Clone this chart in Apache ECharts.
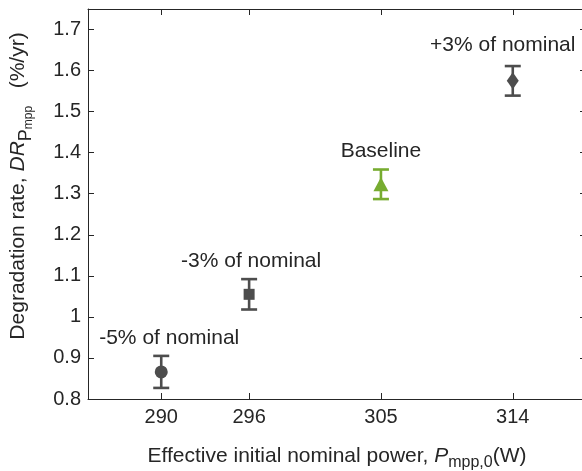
<!DOCTYPE html>
<html>
<head>
    <meta charset="utf-8" />
    <title>Degradation rate</title>
    <script src="https://cdn.jsdelivr.net/npm/echarts@6/dist/echarts.min.js"></script>
    <style>
        html, body { margin: 0; padding: 0; background: #fff; }
    </style>
</head>
<body>
    <div id="main" style="width: 582px;height:471px;"></div>
    <script type="text/javascript">
        // values
        var powers = [290, 296, 305, 314];
        var rates = [0.866, 1.055, 1.323, 1.575];
        var errors = [0.039, 0.037, 0.036, 0.036];
        var names = ['-5% of nominal', '-3% of nominal', 'Baseline', '+3% of nominal'];
        var symbols = ['circle', 'rect', 'triangle', 'diamond'];
        var xTicks = [290, 296, 305, 314];

        var gray = '#4d4d4d';
        var green = '#77ac30';
        var ink = '#262626';
        var font = "'Liberation Sans', Arial, Helvetica, sans-serif";

        var colors = names.map(function (n) { return n === 'Baseline' ? green : gray; });
        var symbolSizes = [13, 11, [15, 14], [12, 17]];
        var labelOffsets = [[8, -34], [2, -33], [0, -33], [-10, -36]];

        var pointData = powers.map(function (p, i) {
            return {
                value: [p, rates[i]],
                symbol: symbols[i],
                symbolSize: symbolSizes[i],
                itemStyle: { color: colors[i], opacity: 1 },
                label: { formatter: names[i], offset: labelOffsets[i] }
            };
        });
        var errData = powers.map(function (p, i) {
            return { value: [p, rates[i], errors[i]], itemStyle: { color: colors[i] } };
        });

        var myChart = echarts.init(document.getElementById('main'));

        var tickStyle = { show: true, inside: true, length: 6, lineStyle: { color: ink, width: 1 } };
        var lineStyle = { show: true, lineStyle: { color: ink, width: 1 } };

        var option = {
            animation: false,
            textStyle: { fontFamily: font },
            grid: { left: 88, top: 9, right: -4, bottom: 72, outerBoundsMode: 'none', containLabel: false },
            xAxis: [{
                type: 'value', min: 285, max: 319, position: 'bottom',
                axisLine: lineStyle,
                axisTick: Object.assign({ customValues: xTicks }, tickStyle),
                axisLabel: { customValues: xTicks, color: ink, fontSize: 20, margin: 8, fontFamily: font },
                splitLine: { show: false },
                name: 'Effective initial nominal power, {i|P}{s|mpp,0}(W)',
                nameLocation: 'middle', nameGap: 42,
                nameTextStyle: {
                    color: ink, fontSize: 21, fontFamily: font, lineHeight: 30,
                    rich: {
                        i: { fontStyle: 'italic', fontSize: 21, color: ink, fontFamily: font, lineHeight: 30 },
                        s: { fontSize: 16, color: ink, fontFamily: font, lineHeight: 12, verticalAlign: 'bottom' }
                    }
                }
            }, {
                type: 'value', min: 285, max: 319, position: 'top',
                axisLine: lineStyle,
                axisTick: Object.assign({ customValues: xTicks }, tickStyle),
                axisLabel: { show: false },
                splitLine: { show: false }
            }],
            yAxis: [{
                type: 'value', min: 0.8, max: 1.75, interval: 0.1, position: 'left',
                axisLine: lineStyle,
                axisTick: tickStyle,
                axisLabel: { color: ink, fontSize: 20, margin: 7, fontFamily: font, showMaxLabel: false,
                    formatter: function (v) { return v > 1.71 ? '' : String(+v.toFixed(1)); } },
                splitLine: { show: false },
                name: 'Degradation rate, {i|DR}{s|P}{ss|mpp}   (%/yr)',
                nameLocation: 'middle', nameGap: 53, nameRotate: 90,
                nameTextStyle: {
                    color: ink, fontSize: 21, fontFamily: font, lineHeight: 34,
                    padding: [0, 0, 0, 36],
                    rich: {
                        i: { fontStyle: 'italic', fontSize: 21, color: ink, fontFamily: font, lineHeight: 34 },
                        s: { fontSize: 18, color: ink, fontFamily: font, lineHeight: 24, verticalAlign: 'bottom' },
                        ss: { fontSize: 12, color: ink, fontFamily: font, lineHeight: 10, verticalAlign: 'bottom' }
                    }
                }
            }, {
                type: 'value', min: 0.8, max: 1.75, interval: 0.1, position: 'right',
                axisLine: lineStyle,
                axisTick: tickStyle,
                axisLabel: { show: false },
                splitLine: { show: false }
            }],
            series: [{
                type: 'custom',
                xAxisIndex: 0, yAxisIndex: 0,
                renderItem: function (params, api) {
                    var x = api.value(0), y = api.value(1), e = api.value(2);
                    var hi = api.coord([x, y + e]);
                    var lo = api.coord([x, y - e]);
                    var c = api.visual('color');
                    var w = 8;
                    var st = { stroke: c, lineWidth: 2.6 };
                    return {
                        type: 'group',
                        children: [
                            { type: 'line', shape: { x1: hi[0], y1: hi[1], x2: lo[0], y2: lo[1] }, style: st },
                            { type: 'line', shape: { x1: hi[0] - w, y1: hi[1], x2: hi[0] + w, y2: hi[1] }, style: st },
                            { type: 'line', shape: { x1: lo[0] - w, y1: lo[1], x2: lo[0] + w, y2: lo[1] }, style: st }
                        ]
                    };
                },
                data: errData,
                z: 2
            }, {
                type: 'scatter',
                xAxisIndex: 0, yAxisIndex: 0,
                itemStyle: { opacity: 1 },
                data: pointData,
                label: { show: true, position: 'inside', color: ink, fontSize: 21, fontFamily: font,
                    textBorderWidth: 0 },
                z: 3
            }]
        };

        myChart.setOption(option);
    </script>
</body>
</html>
